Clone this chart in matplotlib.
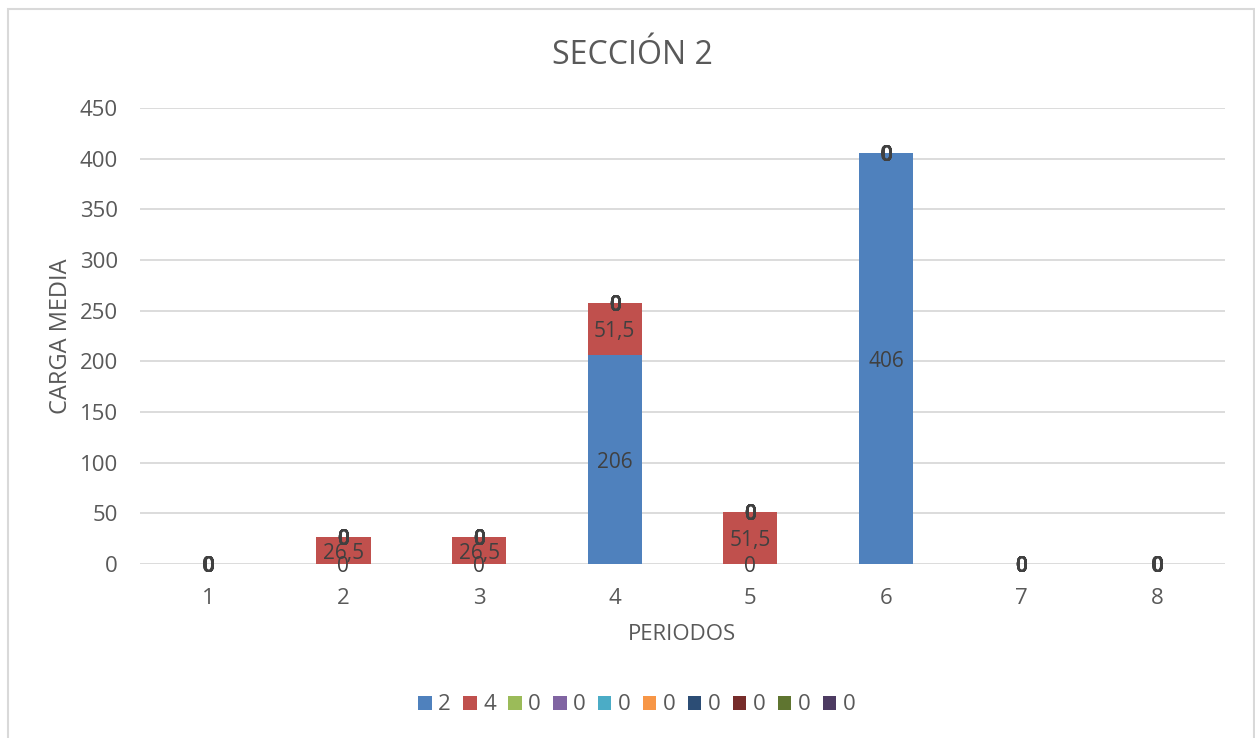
import matplotlib
matplotlib.use("Agg")
import matplotlib.pyplot as plt
from matplotlib.patches import Rectangle
import numpy as np

plt.rcParams['font.family'] = ['Open Sans', 'DejaVu Sans']

periods = ["1", "2", "3", "4", "5", "6", "7", "8"]
series_names = ["2", "4", "0", "0", "0", "0", "0", "0", "0", "0"]
s_2 = [0, 0, 0, 206, 0, 406, 0, 0]
s_4 = [0, 26.5, 26.5, 51.5, 51.5, 0, 0, 0]
s_zero = [0, 0, 0, 0, 0, 0, 0, 0]
series_values = [s_2, s_4] + [s_zero] * 8
colors = ["#4F81BD", "#C0504D", "#9BBB59", "#8064A2", "#4BACC6",
          "#F79646", "#2C4D75", "#772C2A", "#5F7530", "#4D3B62"]

W, H = 1255, 738
fig = plt.figure(figsize=(W / 100, H / 100), dpi=100)
ax = fig.add_axes([140 / W, 1 - 564 / H, (1225 - 140) / W, (564 - 108) / H])

x = np.arange(len(periods))
bottom = np.zeros(len(periods))
for i, (name, vals, col) in enumerate(zip(series_names, series_values, colors)):
    vals = np.array(vals, dtype=float)
    ax.bar(x, vals, width=0.4, bottom=bottom, color=col, label=name,
           zorder=3, edgecolor='none')
    # value label at the middle of each segment
    for xi, b, v in zip(x, bottom, vals):
        ax.annotate(f"{v:g}".replace(".", ","), (xi, b + v / 2),
                    xytext=(0, -2), textcoords='offset points',
                    ha='center', va='center', fontsize=15,
                    color='#404040', zorder=5,
                    fontweight='semibold' if i >= 2 else 'normal')
    bottom += vals

ax.set_xlim(-0.5, len(periods) - 0.5)
ax.set_ylim(0, 450)
ax.set_yticks(np.arange(0, 451, 50))
ax.set_xticks(x)
ax.set_xticklabels(periods)
ax.grid(axis='y', color='#D9D9D9', linewidth=1.3, zorder=0)
for s in ax.spines.values():
    s.set_visible(False)
ax.tick_params(axis='both', length=0, labelsize=16, colors='#595959')
ax.tick_params(axis='y', pad=16)
ax.tick_params(axis='x', pad=17)
ax.set_xlabel("PERIODOS", fontsize=16, color='#595959', labelpad=11)
ax.set_ylabel("CARGA MEDIA", fontsize=17, color='#595959', labelpad=5)

fig.text(632 / W, 1 - 55 / H, "SECCIÓN 2", ha='center', va='center',
         fontsize=23, color='#595959')

leg = ax.legend(loc='center', bbox_to_anchor=(637 / W, 1 - 705 / H),
                bbox_transform=fig.transFigure, ncol=10, frameon=False,
                fontsize=16, handlelength=0.6, handleheight=0.6,
                handletextpad=0.3, columnspacing=0.55, labelcolor='#595959')

fig.patches.append(Rectangle((8 / W, -0.1), (1254 - 8) / W, 1.1 - 9 / H,
                             transform=fig.transFigure, fill=False,
                             edgecolor='#D9D9D9', linewidth=1.5))

fig.savefig("out.png", dpi=100, facecolor='white')
